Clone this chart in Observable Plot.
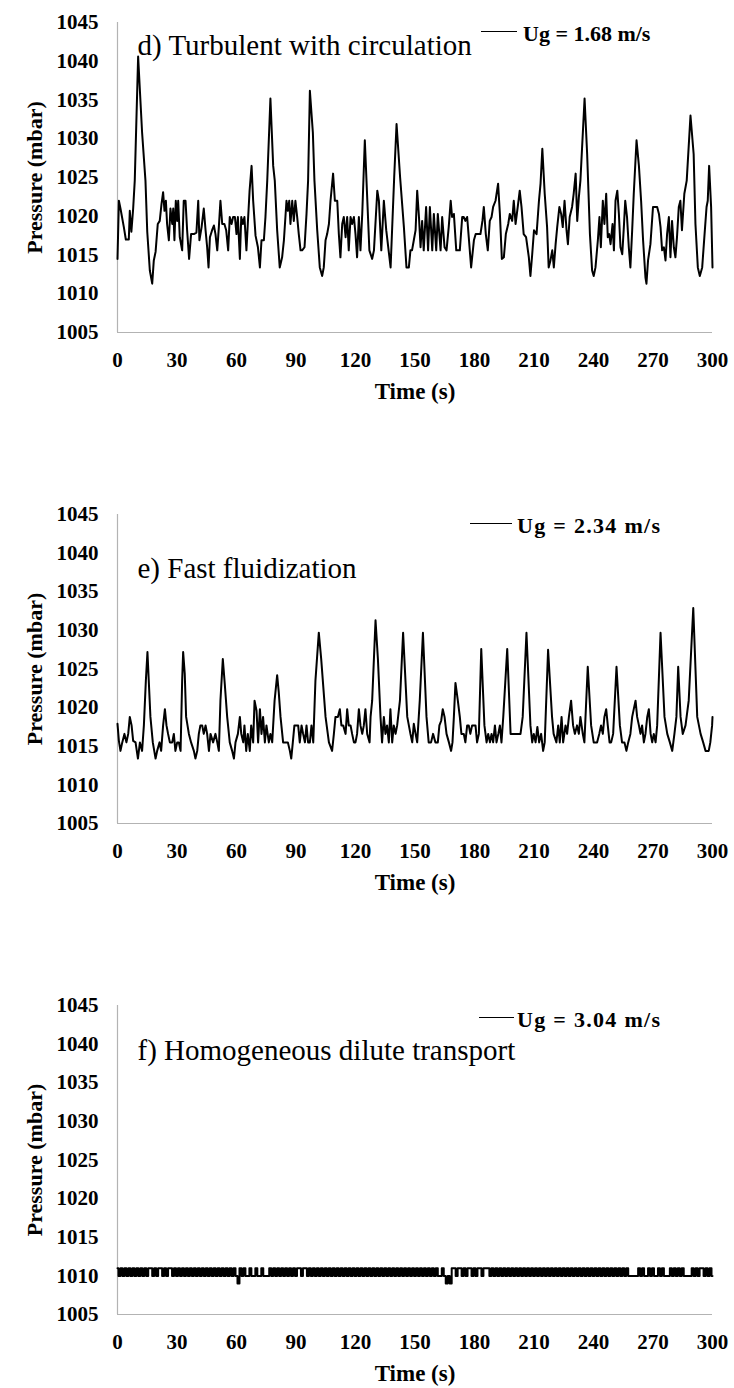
<!DOCTYPE html>
<html><head><meta charset="utf-8">
<script src="https://cdn.jsdelivr.net/npm/d3@7"></script>
<script src="https://cdn.jsdelivr.net/npm/@observablehq/plot@0.6"></script>
<style>
html,body{margin:0;padding:0;background:#fff;}
#root{position:relative;width:734px;height:1388px;overflow:hidden;font-family:'Liberation Serif','Times New Roman',serif;}
.panel{position:absolute;left:0;}
.leg-line{position:absolute;height:0;border-top:1.8px solid #000;}
.leg-text{position:absolute;font-weight:bold;font-size:22px;line-height:22px;white-space:nowrap;color:#000;}
</style></head><body><div id="root"></div>
<script>
// ---- data ----
const xTicks = [0, 30, 60, 90, 120, 150, 180, 210, 240, 270, 300];
const yTicks = [1005, 1010, 1015, 1020, 1025, 1030, 1035, 1040, 1045];
const panelTitles = ["d) Turbulent with circulation", "e) Fast fluidization", "f) Homogeneous dilute transport"];
const legendLabels = ["Ug = 1.68 m/s", "Ug = 2.34 m/s", "Ug = 3.04 m/s"];
const xLabel = "Time (s)";
const yLabel = "Pressure (mbar)";

// [time (s), pressure (mbar)]
const panelD = [
[0,1014.5],[0.7,1022],[1.5,1021],[3.2,1018.6],[4.2,1017],[5.7,1017],[6.2,1020.7],[7,1018],[7.9,1021],[8.7,1024.6],
[10.4,1040.6],[12.4,1030.8],[14.1,1024.6],[15,1018],[16.3,1013],[17.5,1011.3],[18.3,1014.3],[19.2,1015.4],[20.3,1019],[21.3,1019.4],
[22.2,1021.6],[23,1023.1],[23.7,1020.7],[24.4,1022],[25,1019],[25.9,1016.9],[26.7,1021],[27.6,1019],[28.1,1021],[28.7,1016.9],
[29.4,1022],[30.1,1019.4],[30.6,1022],[31.4,1017.3],[32.6,1015.6],[33.4,1022],[34.3,1022],[35.1,1018.2],[36.1,1014.5],[37.1,1017.7],
[38.5,1017.7],[39.8,1017.9],[40.7,1022],[41.3,1016.9],[42.4,1018.6],[43.5,1021],[44.4,1018.2],[45.2,1016],[45.9,1013.4],[46.6,1017.3],
[47.7,1018.2],[48.6,1018.8],[49.4,1017.7],[50.3,1015.6],[51.1,1018.6],[51.9,1022],[52.8,1019],[53.9,1019],[54.8,1018.2],[55.8,1015.6],
[56.6,1019.9],[57.5,1019],[58.3,1019.9],[59.2,1019.9],[60,1017.7],[60.7,1019.9],[61.7,1014.5],[62.4,1019.9],[63.2,1019],[64,1019.9],
[65,1015.6],[65.7,1019],[66.6,1023.3],[67.6,1026.5],[68.4,1022],[69.6,1017.5],[70.8,1016],[71.8,1013.4],[72.6,1016.9],[73.8,1016.9],
[74.6,1019.9],[75.5,1024.6],[77.1,1035.2],[78.5,1026.5],[79.3,1024.6],[80.5,1018.2],[81.8,1013.4],[83,1014.7],[83.9,1016.9],[85.2,1022],
[85.9,1020.7],[86.6,1022],[87.2,1019],[88.1,1022],[88.9,1019.4],[89.7,1022],[90.6,1019.9],[91.4,1017.7],[92.3,1015.6],[93.1,1015.6],
[94.3,1016],[95.3,1020.3],[96.1,1024.6],[97,1036.2],[98.5,1030.8],[99.3,1024.6],[100.7,1018.2],[102,1013.4],[103.2,1012.3],[104,1013.4],
[104.9,1016.9],[105.7,1017.7],[106.6,1019],[107.4,1022],[108.7,1025.5],[109.6,1022],[110.8,1022],[111.6,1017.7],[112.4,1014.7],[113.3,1019],
[114.1,1019.9],[115,1017.3],[115.8,1019.9],[116.6,1015.6],[117.5,1019.9],[118.3,1019],[119.2,1019.9],[120,1017.7],[120.8,1014.7],[121.7,1019.9],
[122.5,1015.6],[123.4,1020.3],[124.7,1029.8],[127,1015.6],[128.4,1014.5],[129.3,1015.6],[131,1023.3],[131.8,1022],[133,1015.6],[134.3,1022],
[135.5,1018.2],[137.7,1013.4],[139.5,1025],[140.7,1031.9],[142.5,1025],[144.4,1018.6],[145.7,1013.4],[146.9,1013.4],[147.7,1015.6],[148.5,1015.6],
[149.4,1016.9],[150.3,1018.2],[151.1,1023.3],[152,1019.9],[152.8,1016],[153.6,1019.4],[154.4,1015.6],[155.6,1021.2],[156.6,1015.6],[157.5,1021.2],
[158.7,1015.6],[159.5,1020.3],[160.7,1015.6],[161.5,1020.3],[162.9,1015.6],[163.7,1019.9],[164.9,1016],[165.9,1015.6],[167,1018.6],[168,1022],
[168.7,1019.9],[169.6,1020.3],[170.8,1015.6],[171.8,1015.6],[172.6,1015.6],[173.8,1019.9],[174.6,1019.9],[175.4,1019.4],[176.3,1019.9],[177.1,1017.3],
[178.3,1013.4],[179.7,1016.9],[180.6,1017.7],[181.6,1017.7],[183,1017.7],[184,1019.4],[184.7,1021.2],[185.7,1017.7],[186.7,1015.6],[187.7,1019.4],
[188.6,1019.9],[189.4,1021.2],[190.6,1022],[191.9,1024.2],[192.8,1020.3],[193.8,1014.5],[194.8,1014.7],[195.8,1017.7],[197,1019],[197.8,1020.3],
[199,1019.4],[199.8,1022],[200.7,1019],[201.8,1021.2],[202.8,1023.3],[203.7,1021.2],[204.8,1017.7],[206,1017.3],[207.4,1014.7],[208.2,1012.3],
[209.1,1015.1],[210,1018.2],[211.3,1017.7],[212.5,1022],[213.3,1024.2],[214.2,1028.7],[215.4,1022.9],[216.6,1018.6],[217.4,1013.4],[218.3,1014.3],
[219.2,1015.6],[220,1013.4],[220.9,1016.4],[221.7,1018.6],[222.8,1021.2],[223.7,1020.3],[224.5,1018.6],[225.4,1022],[226.4,1018.2],[227.1,1016.4],
[228,1019.9],[229.2,1021.2],[230,1022.9],[231,1025.5],[231.8,1019.4],[232.6,1022.4],[233.4,1024.6],[235.5,1035.2],[236.8,1028],[238.2,1017.7],
[239.3,1013],[240.1,1012.3],[241,1013.4],[242.2,1016.9],[243,1019.9],[243.7,1016],[244.7,1022],[245.5,1019],[246.4,1022.9],[247.2,1017.3],
[247.9,1017.7],[248.6,1016.4],[249.6,1019],[250.3,1015.6],[251.1,1022],[252,1023.3],[252.8,1020.3],[253.6,1016],[254.5,1015.1],[255.3,1018.6],
[256,1022],[256.9,1019.9],[257.8,1016],[258.6,1013.4],[259.5,1018.2],[260.3,1022.9],[261.7,1029.8],[262.9,1026.5],[264,1022],[265,1016.9],
[266.2,1012.1],[266.7,1011.3],[267.5,1014.3],[268.7,1016.4],[270,1021.2],[271.3,1021.2],[272.1,1021.2],[273,1020.3],[273.8,1018.6],[274.6,1015.6],
[275.5,1016],[276.3,1014.3],[277.1,1017.7],[278,1019.9],[278.8,1014.7],[279.6,1019.4],[280.5,1016],[281.3,1014.7],[282.1,1017.3],[283,1021.2],
[283.8,1022],[284.6,1018.2],[285.8,1022.9],[287,1024.6],[288.9,1033],[290.5,1028],[291.4,1019],[292.6,1013.4],[293.6,1012.3],[294.8,1013.4],
[296,1017.7],[297,1021.2],[297.6,1022],[298.3,1026.5],[299.3,1021.2],[300,1013.4]
];

const panelE = [
[0,1017.9],[0.7,1015.7],[1.5,1014.4],[2.4,1015.5],[3.5,1016.6],[4.5,1015.5],[5.4,1016.6],[6.2,1018.8],[7.1,1017.7],[7.9,1015.7],
[9.1,1015.5],[10.3,1013.4],[11.3,1015.5],[12.4,1014.4],[13.3,1017.7],[14.3,1023.5],[15.1,1027.2],[16.6,1018.8],[17.8,1015.5],[19.2,1013.4],
[20,1014.4],[21.2,1015.5],[22,1014.4],[23,1017.7],[23.9,1019.8],[24.7,1017.7],[25.5,1016.6],[26.4,1015.5],[27.6,1015.5],[28.4,1016.6],
[29.2,1014.4],[30.1,1015.5],[30.9,1015.5],[31.8,1014.4],[32.6,1023.5],[33.1,1027.2],[33.9,1024.4],[34.6,1018.8],[36,1016.6],[37.1,1015.5],
[38.5,1014.4],[39.3,1013.4],[40.2,1014.4],[41,1016.6],[41.8,1017.7],[42.7,1017.7],[43.5,1016.6],[44.4,1017.7],[45.2,1016.6],[46.1,1014.4],
[46.9,1016.6],[48.2,1015.5],[49.4,1016.6],[50.3,1015.5],[51.1,1014.4],[51.9,1020.9],[53.1,1026.3],[54.1,1023],[55.3,1018.8],[56.6,1015.5],
[57.8,1014.4],[58.7,1013.4],[59.5,1015.5],[60.7,1016.6],[61.7,1018.8],[62.4,1016.6],[63.4,1015.5],[64,1017.7],[64.9,1014.4],[65.7,1016.6],
[66.7,1014.4],[67.4,1017.7],[68.4,1015.5],[69.1,1020.9],[70.1,1019.6],[70.9,1015.5],[71.8,1019.8],[72.6,1016.6],[73.4,1018.8],[74.3,1015.5],
[75.1,1017.7],[76.3,1015.5],[77.1,1016.6],[78,1015.5],[79.2,1020.9],[80.5,1024.2],[81.3,1022],[82.2,1018.8],[83.5,1015.5],[84.7,1015.5],
[85.9,1015.5],[86.9,1014.4],[87.6,1013.4],[88.4,1015.5],[89.2,1017.7],[90.3,1017.7],[91.1,1017.7],[91.9,1015.5],[92.8,1017.7],[93.6,1016.6],
[94.5,1015.5],[95.3,1017.7],[96.1,1015.5],[97,1015.5],[97.8,1017.7],[98.7,1015.5],[99.8,1023.5],[101.5,1029.7],[102.7,1026.3],[104.9,1018.8],
[106.6,1015.5],[108.2,1014.4],[109.1,1016.6],[109.9,1018.8],[111.1,1018.8],[112.1,1019.8],[112.9,1017.7],[113.8,1017.7],[115,1016.6],[115.8,1019.8],
[116.6,1017.7],[117.5,1017.7],[118.3,1016.6],[119.2,1015.5],[120,1015.5],[120.8,1016.6],[121.7,1019.8],[122.5,1017.7],[123.4,1016.6],[124.2,1017.7],
[125,1019.8],[125.9,1016.6],[127.1,1015.5],[127.6,1018.8],[128.4,1020.9],[130.1,1031.3],[131.3,1026.3],[132.6,1018.8],[133.4,1015.5],[134.3,1018.8],
[135.1,1016.6],[135.9,1017.7],[136.8,1015.5],[137.6,1019.8],[138.5,1015.5],[139.3,1017.7],[140.2,1016.6],[141,1017.7],[142.4,1020.9],[144,1029.7],
[146.1,1018.8],[147.7,1016.6],[148.6,1015.5],[149.4,1017.9],[150.3,1016.6],[151.1,1015.5],[152.4,1020.9],[154,1029.7],[155.8,1018.8],[156.9,1015.5],
[158.1,1015.5],[159.1,1016.6],[160.3,1015.5],[161.5,1015.5],[162.3,1017.7],[163.2,1018.3],[164,1019.8],[164.9,1018.8],[165.9,1016.6],[167.1,1015.5],
[168.2,1014.4],[168.9,1015.5],[169.6,1018.8],[170.4,1023.2],[171.6,1020.9],[172.6,1018.8],[173.4,1016.6],[174.6,1016.6],[175.4,1015.5],[176.3,1017.7],
[177.1,1017.7],[177.9,1016.6],[178.8,1017.7],[179.6,1017.7],[180.5,1017.7],[181.3,1015.5],[182.2,1016.6],[183.4,1027.6],[185,1017.7],[186.1,1015.5],
[186.9,1016.6],[187.8,1015.5],[188.6,1016.6],[189.4,1015.5],[190.3,1017.7],[191.1,1015.5],[192,1016.6],[192.8,1017.7],[193.6,1015.5],[194.5,1018.8],
[196.5,1027.6],[198.2,1016.6],[199,1016.6],[199.9,1016.6],[200.7,1016.6],[201.5,1016.6],[202.4,1016.6],[203.2,1016.6],[204.3,1018.8],[206.2,1029.7],
[208.2,1017.7],[209.1,1015.5],[209.9,1016.6],[210.8,1015.5],[211.7,1017.5],[212.6,1015.5],[213.6,1016.6],[214.6,1014.4],[215.4,1015.5],[217.1,1027.5],
[219.1,1018.8],[219.9,1016.6],[221.3,1015.5],[222.2,1017.7],[223,1015.5],[223.9,1018.8],[224.7,1015.5],[225.9,1017.7],[226.7,1016.6],[227.6,1018.8],
[228.7,1020.9],[229.7,1017.7],[230.6,1016.6],[231.7,1017.7],[232.6,1016.6],[233.4,1018.8],[234.6,1016.6],[235.4,1015.5],[237.1,1025.3],[238.8,1017.7],
[240.1,1015.5],[241.8,1015.5],[242.9,1016.6],[243.8,1017.7],[244.7,1016.6],[245.5,1018.8],[246.4,1019.8],[247.2,1017.7],[248.1,1015.5],[248.9,1015.5],
[249.9,1016.6],[251.6,1025.3],[253.3,1017.7],[254.4,1015.5],[255.6,1015.5],[256.6,1014.4],[257.5,1015.5],[258.6,1016.6],[259.5,1018.8],[260.3,1019.8],
[261.2,1020.9],[262,1018.8],[262.9,1017.7],[263.7,1016.6],[264.5,1017.7],[265.4,1015.5],[266.2,1016.6],[267.1,1018.8],[267.9,1019.8],[268.8,1016.6],
[269.6,1015.5],[270.4,1016.6],[271.3,1015.5],[272.1,1017.7],[273.8,1029.7],[275.8,1018.8],[277.2,1016.6],[278.5,1015.5],[279.7,1014.4],[280.8,1016.6],
[281.8,1018.8],[282.7,1025.3],[283.9,1018.8],[285,1016.6],[286.4,1017.7],[288,1020.9],[290.3,1032.9],[292.3,1018.8],[294,1016.6],[295.3,1015.5],
[296.5,1014.4],[297.3,1014.4],[298.1,1014.4],[298.9,1015.5],[299.8,1017.7],[300,1018.8]
];

// one reading per second, t = 0 ... 300
const panelF = [
1011,1010,1011,1010,1011,1010,1011,1010,1011,1010,1011,1010,1011,1010,
1011,1010,1011,1011,1010,1011,1010,1011,1011,1010,1011,1010,1011,1011,1010,1011,
1010,1011,1010,1011,1010,1011,1010,1011,1010,1011,1010,1011,1010,1011,1010,1011,1010,1011,1010,1011,1010,1011,1010,1011,1010,1011,1010,1011,1010,1011,1010,
1009,1011,
1010,1011,1010,1010,1011,1010,1010,1011,1010,1010,1011,
1010,1010,1010,
1011,1010,1011,1010,1011,1010,1011,1010,1011,1010,1011,1010,1011,1010,
1011,1011,1010,1011,1011,1010,1011,
1010,1011,1010,1011,1010,1011,1010,1011,1010,1011,
1010,1011,1010,1011,1010,1011,1010,1011,1010,1011,
1010,1011,1010,1011,1010,1011,1010,1011,1010,1011,
1010,1011,1010,1011,1010,1011,1010,1011,1010,1011,
1010,1011,1010,1011,1010,1011,1010,1011,1010,1011,
1010,1011,1010,1011,1010,1011,1010,1011,1010,1011,
1010,1011,1010,
1011,1010,1010,1011,1010,
1009,1010,1009,1011,1011,
1010,1011,1011,1010,1011,1010,1011,1011,1010,1011,1010,1011,1011,1010,1011,1011,1011,
1010,1011,1010,1011,1010,1011,1010,1011,1010,1011,
1010,1011,1010,1011,1010,1011,1010,1011,1010,1011,
1010,1011,1010,1011,1010,1011,1010,1011,1010,1011,
1010,1011,1010,1011,1010,1011,1010,1011,1010,1011,
1010,1011,1010,1011,1010,1011,1010,1011,1010,1011,
1010,1011,1010,1011,1010,1011,1010,1011,1010,1011,
1010,1011,1010,1011,1010,1011,1010,1011,1010,1011,
1010,
1010,1010,1010,1010,
1011,1010,1011,1010,1010,1011,1010,1011,1010,1010,1011,1010,1011,
1010,1010,1010,
1011,1010,1011,1010,1011,1010,1011,1010,
1010,1010,1010,
1011,1010,1011,1010,1011,1011,1010,1011,1010,1011,1010
];

// ---- layout ----
const root = document.getElementById("root");
const serif = "'Liberation Serif','Times New Roman',serif";

function makePanel(data, xAcc, yAcc, curve, title, titleDy, plotH) {
  const mt = 22, mb = 80;
  return Plot.plot({
    width: 734, height: mt + plotH + mb,
    marginTop: mt, marginLeft: 117, marginRight: 22, marginBottom: mb,
    style: {fontFamily: serif, fontSize: "21px", fontWeight: "bold", color: "#000", background: "transparent", overflow: "visible"},
    x: {domain: [0, 300], ticks: xTicks, tickFormat: d => String(d), tickSize: 0, tickPadding: 20, label: null},
    y: {domain: [1005, 1045], ticks: yTicks, tickFormat: d => String(d), tickSize: 0, tickPadding: 19, label: null},
    marks: [
      Plot.ruleX([0], {stroke: "#b3b3b3", strokeWidth: 1.2}),
      Plot.ruleY([1005], {stroke: "#b3b3b3", strokeWidth: 1.2}),
      Plot.line(data, {x: xAcc, y: yAcc, curve, stroke: "#000", strokeWidth: 2}),
      Plot.text([title], {text: d => d, frameAnchor: "top-left", textAnchor: "start", lineAnchor: "middle",
        dx: 20, dy: titleDy, fontSize: 29, fontWeight: "normal", fill: "#000"}),
      Plot.text([xLabel], {text: d => d, frameAnchor: "bottom", textAnchor: "middle", lineAnchor: "middle",
        dy: 59.6, fontSize: 23, fill: "#000"}),
      Plot.text([yLabel], {text: d => d, frameAnchor: "left", textAnchor: "middle", lineAnchor: "middle",
        dx: -83, rotate: -90, fontSize: 22, fill: "#000"})
    ]
  });
}

const panels = [
  {data: panelD, x: d => d[0], y: d => d[1], curve: "linear", top: 0, titleDy: 23.7, plotH: 310},
  {data: panelE, x: d => d[0], y: d => d[1], curve: "linear", top: 492, titleDy: 54.7, plotH: 309},
  {data: panelF, x: (d, i) => i, y: d => d, curve: "step", top: 983, titleDy: 45.7, plotH: 309}
];
const legendPos = [
  {lineLeft: 481, lineTop: 31, lineW: 36, textLeft: 523, textTop: 22.6, ls: 0},
  {lineLeft: 470, lineTop: 523, lineW: 42, textLeft: 517, textTop: 514.6, ls: 1.3},
  {lineLeft: 479, lineTop: 1017, lineW: 35, textLeft: 517, textTop: 1008.6, ls: 1.3}
];

panels.forEach((p, k) => {
  const wrap = document.createElement("div");
  wrap.className = "panel";
  wrap.style.top = p.top + "px";
  wrap.appendChild(makePanel(p.data, p.x, p.y, p.curve, panelTitles[k], p.titleDy, p.plotH));
  root.appendChild(wrap);

  const lp = legendPos[k];
  const line = document.createElement("div");
  line.className = "leg-line";
  line.style.left = lp.lineLeft + "px";
  line.style.top = lp.lineTop + "px";
  line.style.width = lp.lineW + "px";
  root.appendChild(line);
  const txt = document.createElement("div");
  txt.className = "leg-text";
  txt.style.left = lp.textLeft + "px";
  txt.style.top = lp.textTop + "px";
  txt.style.letterSpacing = lp.ls + "px";
  txt.textContent = legendLabels[k];
  root.appendChild(txt);
});
</script>
</body></html>
